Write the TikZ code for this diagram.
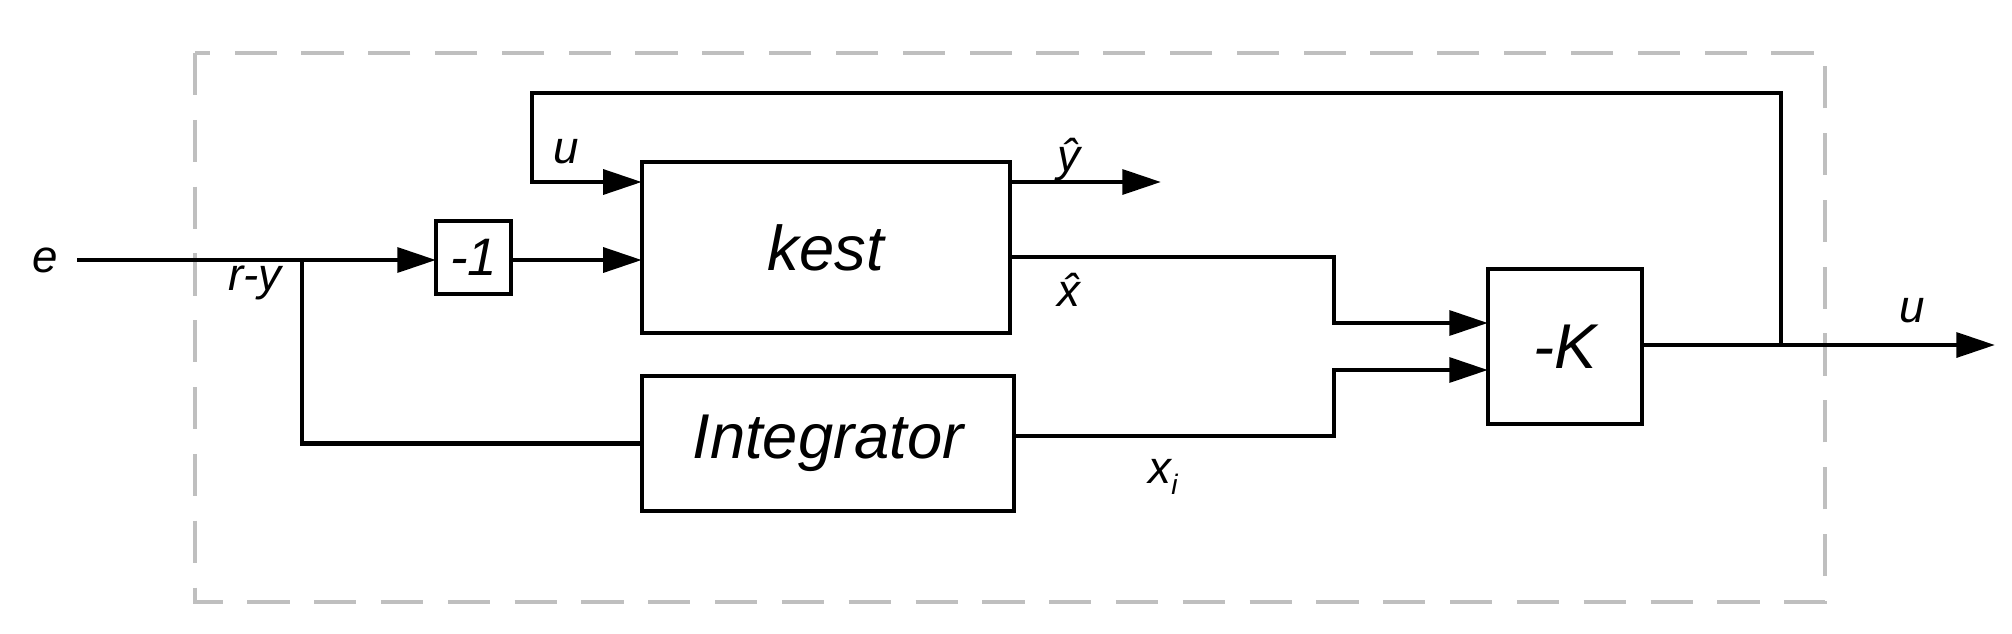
\documentclass[tikz,border=0pt]{standalone}
\usepackage{fontspec}
\setmainfont{Liberation Sans}
\usetikzlibrary{arrows.meta}
\begin{document}
\begin{tikzpicture}[x=0.01cm,y=-0.01cm,
  wire/.style={line width=1.3pt,black},
  arr/.style={wire,-{Triangle[length=11pt,width=7pt]}},
  blk/.style={draw,line width=1.3pt,inner sep=0pt,outer sep=0pt},
  lbl/.style={font=\fontsize{13}{13}\selectfont\itshape,inner sep=0pt},
  big/.style={font=\fontsize{18}{18}\selectfont\itshape}]
\useasboundingbox (0,0) rectangle (2012,633);
\draw[gray!50,line width=1pt,dash pattern=on 12pt off 7pt] (195,53) rectangle (1825,602);
\node[blk,big,minimum width=1.04cm*3.54,minimum height=1.71cm] (kest) at (826,247.5) {kest};
\node[blk,big,minimum width=3.72cm,minimum height=1.35cm] (int) at (828,443.5) {Integrator};
\node[blk,font=\fontsize{15}{15}\selectfont\itshape,minimum width=0.75cm,minimum height=0.73cm] (neg) at (473.5,257.5) {-1};
\node[blk,big,minimum width=1.54cm,minimum height=1.55cm] (K) at (1565,346.5) {-K};
\coordinate (eS) at (77,260);
\coordinate (br) at (302,260);
\coordinate (yh2) at (1161,182);
\coordinate (ubr) at (1781,345);
\coordinate (uend) at (1995,345);
\coordinate (tl) at (532,93);
\coordinate (j) at (1334,300);
\draw[wire] (eS) -- (br);
\draw[arr] (br) -- (neg.west |- br);
\draw[arr] (neg.east |- br) -- (kest.west |- br);
\draw[wire] (br) |- (int.west);
\draw[arr] (kest.east |- yh2) -- (yh2);
\draw[arr] (kest.east |- 0,257) -| (j |- 0,290) |- (K.west |- 0,323);
\draw[arr] (int.east |- 0,436) -| (j |- 0,400) |- (K.west |- 0,370);
\draw[arr] (K.east |- ubr) -- (uend);
\draw[arr] (ubr) |- (tl) |- (kest.west |- yh2);
\node[lbl] (le) at (45,260) {e};
\node[lbl] (lry) at (255,283) {r-y};
\node[lbl] (lu) at (566,152) {u};
\node[lbl] (lyh) at (1069,160) {\^y};
\node[lbl] (lxh) at (1069,290) {\^x};
\node[lbl] (lxi) at (1163,477) {x\raisebox{-3pt}{\fontsize{8}{8}\selectfont i}};
\node[lbl] (lu2) at (1912,311) {u};
\end{tikzpicture}
\end{document}
